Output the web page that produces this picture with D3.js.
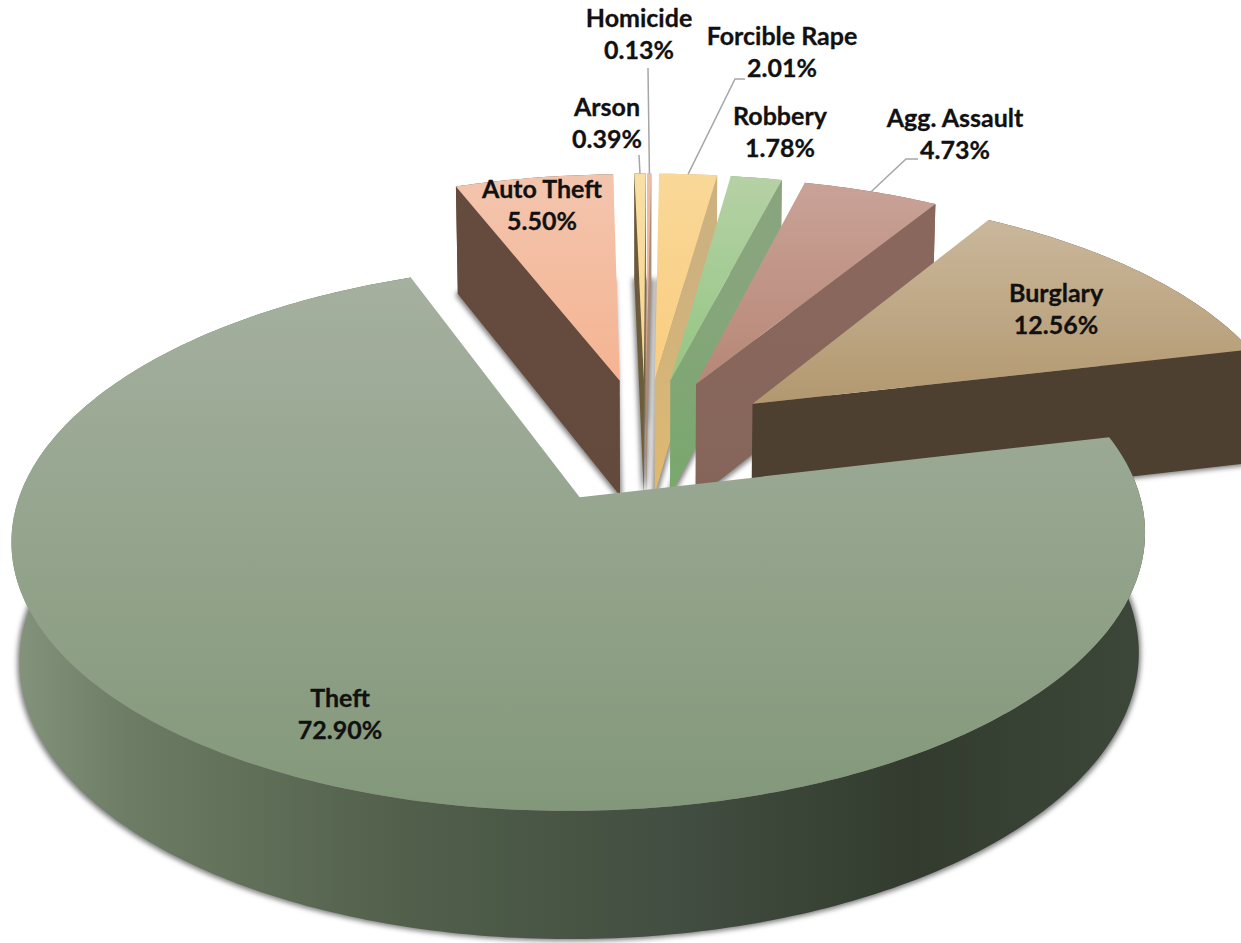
<!DOCTYPE html>
<html>
<head>
<meta charset="utf-8">
<script src="https://cdn.jsdelivr.net/npm/d3@7"></script>
<style>
  html, body { margin: 0; padding: 0; background: #fff; overflow: hidden; }
  text { font-family: Lato, "Noto Sans", sans-serif; font-weight: 700; font-size: 25px; fill: #111; stroke: #111; stroke-width: 0.3px; }
</style>
</head>
<body>
<svg id="chart"></svg>
<script>
// clockwise, starting from the far left edge of Auto Theft
var categories = ["Auto Theft", "Arson", "Homicide", "Forcible Rape", "Robbery", "Agg. Assault", "Burglary", "Theft"];
var values = [5.50, 0.39, 0.13, 2.01, 1.78, 4.73, 12.56, 72.90];

var topLight = ["#f3c5ae", "#f8dfa6", "#efbca6", "#f9d898", "#b5d1a5", "#c9a297", "#cab79b", "#a5b09f"];
var topDark = ["#f5b492", "#f8d58a", "#f0b08e", "#f9cd80", "#94c683", "#b78776", "#b2986f", "#83987a"];
var wallLight = ["#654b3e", "#6b5a3a", "#a98b77", "#cdb17f", "#88a57d", "#8a675c", "#4e4031", "#3a4437"];
var wallDark = ["#634a3c", "#6f5f38", "#a98b77", "#deb970", "#79a86d", "#85655a", "#4e4031", "#3a4437"];
// side of the big slice, shaded left to right
var theftWallStops = ["#84937b", "#6d7c64", "#515f4b", "#414d40", "#323b2e", "#3c473a"];

// label centres and leader elbows in page pixels
var labelCentres = [[542, 190], [607, 108], [639, 19], [782, 37], [780, 117], [955, 119], [1056, 294], [340, 699]];
var leaderStarts = [null, [[639, 155]], [[648, 68]], [[745, 79], [735, 79]], null, [[918, 159], [906, 159]], null, null];

var width = 1241;
var height = 943;
var explode = 0.25;
var cx = 645, cy = 440, rx = 543, ry = 251;
var persp = 0.142, zPersp = 0.03, xPersp = 0.012, zDrop = 121;

function project(u, v, z) {
  var w = 1 + persp * v;
  return [cx + rx * u / (w + xPersp * z), cy + (-ry * v + zDrop * z) / (w + zPersp * z)];
}

var svg = d3.select("#chart")
    .attr("width", width)
    .attr("height", height)
    .attr("viewBox", [0, 0, width, height])
    .style("display", "block");

var defs = svg.append("defs");
var soft = defs.append("filter")
    .attr("id", "soft")
    .attr("filterUnits", "userSpaceOnUse")
    .attr("x", -50).attr("y", -50)
    .attr("width", width + 100).attr("height", height + 100);
soft.append("feMorphology")
    .attr("operator", "dilate")
    .attr("radius", 2);
soft.append("feGaussianBlur")
    .attr("stdDeviation", 2.8);

var pie = d3.pie()
    .sort(null)
    .startAngle(339 * Math.PI / 180)
    .endAngle(699 * Math.PI / 180);

var arcs = pie(values).map(function(a, i) {
  var mid = (a.startAngle + a.endAngle) / 2;
  var ou = explode * Math.sin(mid);
  var ov = explode * Math.cos(mid);
  var steps = Math.max(2, Math.ceil((a.endAngle - a.startAngle) / 0.015));
  var rim = d3.range(steps + 1).map(function(s) {
    var t = a.startAngle + (a.endAngle - a.startAngle) * s / steps;
    return [ou + Math.sin(t), ov + Math.cos(t)];
  });
  return { i: i, mid: mid, ou: ou, ov: ov, rim: rim };
});

function at(points, z) {
  return points.map(function(p) { return project(p[0], p[1], z); });
}
var line = d3.line().curve(d3.curveLinearClosed);

function vGradient(id, y1, y2, c1, c2) {
  var g = defs.append("linearGradient")
      .attr("id", id)
      .attr("gradientUnits", "userSpaceOnUse")
      .attr("x1", 0).attr("x2", 0).attr("y1", y1).attr("y2", y2);
  g.append("stop").attr("offset", 0).attr("stop-color", c1);
  g.append("stop").attr("offset", 1).attr("stop-color", c2);
}

var theftGrad = defs.append("linearGradient")
    .attr("id", "theftWall")
    .attr("gradientUnits", "userSpaceOnUse")
    .attr("x1", 15).attr("x2", 1140).attr("y1", 0).attr("y2", 0);
[0, 0.1, 0.35, 0.6, 0.8, 1].forEach(function(o, i) {
  theftGrad.append("stop").attr("offset", o).attr("stop-color", theftWallStops[i]);
});

// bottom faces blurred, this is the shadow round the walls
svg.append("g")
    .attr("filter", "url(#soft)")
  .selectAll("path")
    .data(arcs)
    .join("path")
    .attr("fill", "#808080")
    .attr("d", function(d) {
      return line([project(d.ou, d.ov, 1)].concat(at(d.rim, 1)));
    });

// far slices first so the nearer ones cover them
arcs.forEach(function(d) {
  var apex = [d.ou, d.ov];
  var g = svg.append("g");
  var topPoly = [project(apex[0], apex[1], 0)].concat(at(d.rim, 0));
  var ext = d3.extent(topPoly, function(p) { return p[1]; });

  vGradient("top" + d.i, ext[0], ext[1], topLight[d.i], topDark[d.i]);
  vGradient("wall" + d.i, ext[0] + 100, ext[1] + 110, wallLight[d.i], wallDark[d.i]);
  var wallFill = "url(#wall" + d.i + ")";

  // outer rim wall
  var rimPoly = at(d.rim, 0).concat(at(d.rim, 1).reverse());
  g.append("path")
      .attr("d", line(rimPoly))
      .attr("fill", d.i === 7 ? "url(#theftWall)" : wallFill);

  // the two radial walls, only if they face the viewer
  [d.rim[0], d.rim[d.rim.length - 1]].forEach(function(edge, k) {
    var q = at([apex, edge], 0).concat(at([edge, apex], 1));
    var a = d3.polygonArea(q);
    var facing = k === 0 ? a > 0 : a < 0;
    if (facing && d.i !== 7) {
      g.append("path").attr("d", line(q)).attr("fill", wallFill);
    }
  });

  g.append("path")
      .attr("d", line(topPoly))
      .attr("fill", "url(#top" + d.i + ")");
});

// leader lines end on the rim at the slice's middle
arcs.forEach(function(d) {
  if (!leaderStarts[d.i]) return;
  var end = project(d.ou + Math.sin(d.mid), d.ov + Math.cos(d.mid), 0);
  svg.append("path")
      .attr("d", d3.line()(leaderStarts[d.i].concat([end])))
      .attr("fill", "none")
      .attr("stroke", "#a6a6a6")
      .attr("stroke-width", 1.5);
});

var labels = svg.append("g")
    .attr("text-anchor", "middle")
  .selectAll("text")
    .data(arcs)
    .join("text")
    .attr("transform", function(d) {
      return "translate(" + labelCentres[d.i][0] + "," + (labelCentres[d.i][1] + 8) + ")";
    });

labels.append("tspan")
    .attr("x", 0)
    .text(function(d) { return categories[d.i]; });
labels.append("tspan")
    .attr("x", 0)
    .attr("dy", 32)
    .text(function(d) { return values[d.i].toFixed(2) + "%"; });
</script>
</body>
</html>
